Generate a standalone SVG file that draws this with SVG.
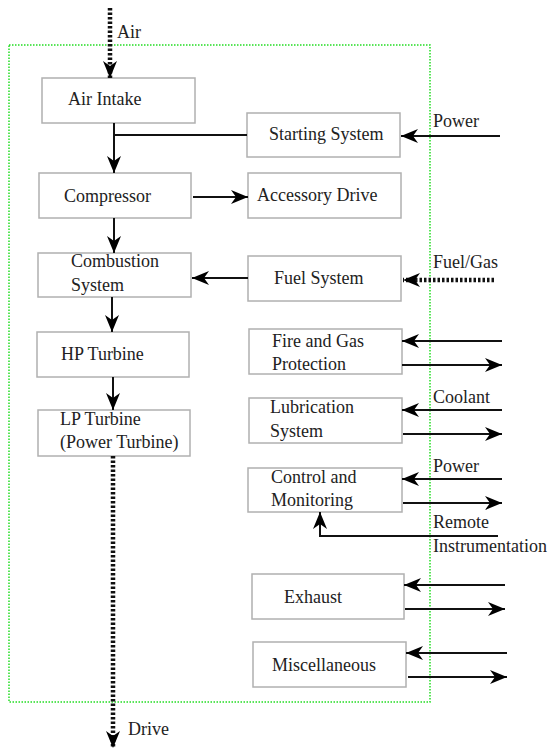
<svg xmlns="http://www.w3.org/2000/svg" width="549" height="750" viewBox="0 0 549 750">
<defs>
<marker id="ah" markerUnits="userSpaceOnUse" markerWidth="20" markerHeight="14" refX="17" refY="7" orient="auto">
<path d="M0,0 L17,7 L0,14 L5,7 z" fill="#000"/>
</marker>
<style>
.box{fill:#fff;stroke:#b0b0b0;stroke-width:1.5}
.t{font-size:18px;fill:#222}
.c{stroke:#111;stroke-width:2;fill:none}
.d{stroke:#111;stroke-width:4.5;stroke-dasharray:2.5,2;fill:none}
.frame{fill:none;stroke:#22dd22;stroke-width:1.5;stroke-dasharray:1.5,1.5}
</style>
</defs>
<rect class="frame" x="9" y="45" width="421" height="657"/>
<g font-family="Liberation Serif, DejaVu Serif, serif">
<g id="air-intake"><rect class="box" x="42" y="78" width="153" height="45"/><text class="t" x="68" y="105">Air Intake</text></g>
<g id="starting-system"><rect class="box" x="247" y="113" width="153" height="44"/><text class="t" x="269" y="140">Starting System</text></g>
<g id="compressor"><rect class="box" x="39" y="173" width="152" height="45"/><text class="t" x="64" y="202">Compressor</text></g>
<g id="accessory-drive"><rect class="box" x="248" y="173" width="153" height="45"/><text class="t" x="257" y="201">Accessory Drive</text></g>
<g id="combustion-system"><rect class="box" x="38" y="253" width="153" height="44"/><text class="t" x="71" y="267">Combustion</text><text class="t" x="71" y="291">System</text></g>
<g id="fuel-system"><rect class="box" x="248" y="256" width="153" height="45"/><text class="t" x="274" y="284">Fuel System</text></g>
<g id="hp-turbine"><rect class="box" x="37" y="332" width="152" height="45"/><text class="t" x="61" y="360">HP Turbine</text></g>
<g id="lp-turbine"><rect class="box" x="38" y="410" width="152" height="46"/><text class="t" x="60" y="425">LP Turbine</text><text class="t" x="60" y="448">(Power Turbine)</text></g>
<g id="fire-gas"><rect class="box" x="249" y="329" width="153" height="45"/><text class="t" x="272" y="347">Fire and Gas</text><text class="t" x="272" y="370">Protection</text></g>
<g id="lubrication"><rect class="box" x="249" y="398" width="153" height="45"/><text class="t" x="270" y="413">Lubrication</text><text class="t" x="270" y="437">System</text></g>
<g id="control"><rect class="box" x="248" y="468" width="154" height="44"/><text class="t" x="271" y="483">Control and</text><text class="t" x="271" y="506">Monitoring</text></g>
<g id="exhaust"><rect class="box" x="252" y="574" width="152" height="45"/><text class="t" x="284" y="603">Exhaust</text></g>
<g id="misc"><rect class="box" x="253" y="642" width="153" height="45"/><text class="t" x="272" y="671">Miscellaneous</text></g>
<g id="labels">
<text class="t" x="117" y="38">Air</text>
<text class="t" x="433" y="127">Power</text>
<text class="t" x="433" y="268">Fuel/Gas</text>
<text class="t" x="433" y="403">Coolant</text>
<text class="t" x="433" y="472">Power</text>
<text class="t" x="433" y="528">Remote</text>
<text class="t" x="433" y="552">Instrumentation</text>
<text class="t" x="128" y="735">Drive</text>
</g>
</g>
<g id="connectors">
<line class="d" x1="110" y1="8" x2="110" y2="78" marker-end="url(#ah)"/>
<line class="c" x1="114" y1="123" x2="114" y2="173" marker-end="url(#ah)"/>
<line class="c" x1="114" y1="135" x2="247" y2="135"/>
<line class="c" x1="500" y1="136" x2="401" y2="136" marker-end="url(#ah)"/>
<line class="c" x1="193" y1="197" x2="248" y2="197" marker-end="url(#ah)"/>
<line class="c" x1="114" y1="218" x2="114" y2="253" marker-end="url(#ah)"/>
<line class="c" x1="248" y1="278" x2="192" y2="278" marker-end="url(#ah)"/>
<line class="d" x1="494" y1="280" x2="403" y2="280" marker-end="url(#ah)"/>
<line class="c" x1="112" y1="297" x2="112" y2="332" marker-end="url(#ah)"/>
<line class="c" x1="113" y1="377" x2="113" y2="410" marker-end="url(#ah)"/>
<line class="d" x1="113" y1="456" x2="113" y2="748" marker-end="url(#ah)"/>
<line class="c" x1="502" y1="341" x2="402" y2="341" marker-end="url(#ah)"/>
<line class="c" x1="402" y1="365" x2="502" y2="365" marker-end="url(#ah)"/>
<line class="c" x1="502" y1="410" x2="402" y2="410" marker-end="url(#ah)"/>
<line class="c" x1="403" y1="434" x2="502" y2="434" marker-end="url(#ah)"/>
<line class="c" x1="502" y1="479" x2="402" y2="479" marker-end="url(#ah)"/>
<line class="c" x1="403" y1="503" x2="502" y2="503" marker-end="url(#ah)"/>
<polyline class="c" points="498,536 320,536 320,512" marker-end="url(#ah)"/>
<line class="c" x1="505" y1="585" x2="404" y2="585" marker-end="url(#ah)"/>
<line class="c" x1="405" y1="609" x2="505" y2="609" marker-end="url(#ah)"/>
<line class="c" x1="507" y1="653" x2="406" y2="653" marker-end="url(#ah)"/>
<line class="c" x1="408" y1="677" x2="507" y2="677" marker-end="url(#ah)"/>
</g>
</svg>
